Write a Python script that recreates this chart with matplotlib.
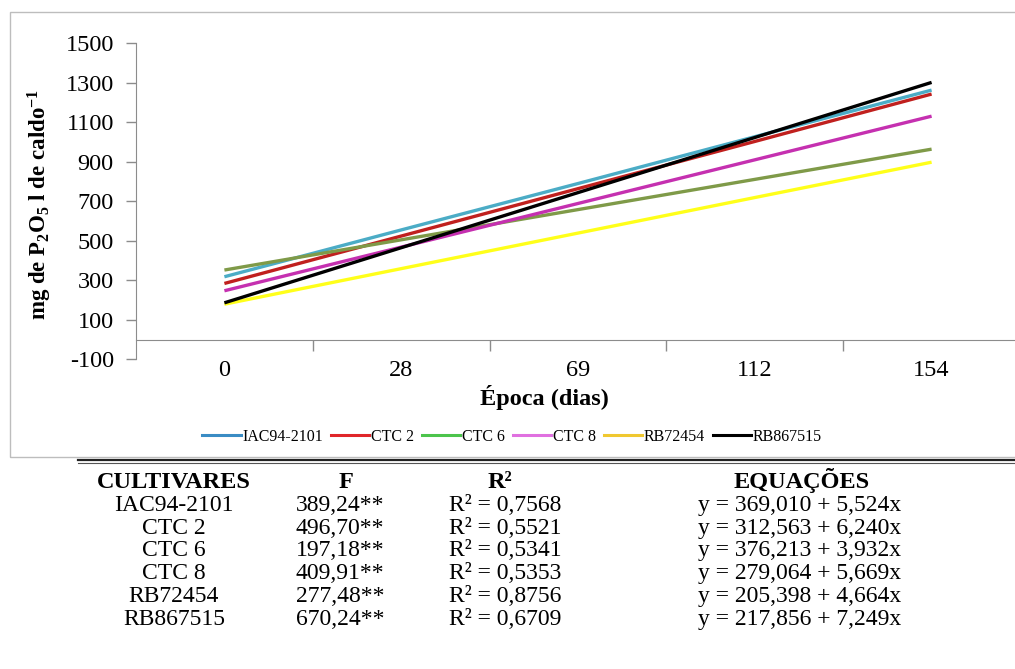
import matplotlib
matplotlib.use("Agg")
import matplotlib.pyplot as plt
from matplotlib.lines import Line2D
from matplotlib.patches import Rectangle

plt.rcParams['font.family'] = ['Liberation Serif', 'DejaVu Serif']
plt.rcParams['axes.unicode_minus'] = False
plt.rcParams['mathtext.fontset'] = 'custom'
plt.rcParams['mathtext.rm'] = 'Liberation Serif:bold'
plt.rcParams['mathtext.it'] = 'Liberation Serif:bold'
plt.rcParams['mathtext.bf'] = 'Liberation Serif:bold'

# Sampling times (days) shown as categories
epocas = ["0", "28", "69", "112", "154"]

# Fitted P2O5 content (mg/l of juice) per cultivar at each sampling time
iac94_2101 = [318, 555, 790, 1027, 1263]
ctc2 = [284, 524, 764, 1003, 1243]
ctc6 = [352, 505, 658, 811, 964]
ctc8 = [247, 468, 689, 910, 1131]
rb72454 = [179, 359, 539, 719, 898]
rb867515 = [186, 465, 744, 1023, 1302]

cultivares = ["IAC94-2101", "CTC 2", "CTC 6", "CTC 8", "RB72454", "RB867515"]
valores_f = ["389,24**", "496,70**", "197,18**", "409,91**", "277,48**", "670,24**"]
valores_r2 = ["0,7568", "0,5521", "0,5341", "0,5353", "0,8756", "0,6709"]
equacoes = ["y = 369,010 + 5,524x", "y = 312,563 + 6,240x", "y = 376,213 + 3,932x",
            "y = 279,064 + 5,669x", "y = 205,398 + 4,664x", "y = 217,856 + 7,249x"]

series = [iac94_2101, ctc2, ctc6, ctc8, rb72454, rb867515]
line_colors = ["#4BACC6", "#C0201E", "#7F9A48", "#C530B0", "#FFFF1A", "#000000"]
legend_colors = ["#3A8CC4", "#E0262A", "#4CC44C", "#E070E0", "#F0C830", "#000000"]

W, H = 1015, 669
fig = plt.figure(figsize=(W / 100, H / 100), dpi=100)

def fx(px):
    return px / W

def fy(py):
    return 1 - py / H

# Chart frame
fig.patches.append(Rectangle((fx(10), fy(457)), fx(1030) - fx(10), fy(12) - fy(457),
                             transform=fig.transFigure, fill=False,
                             edgecolor="#BDBDBD", linewidth=1.0))

ax = fig.add_axes([fx(136), fy(359.3), fx(1020) - fx(136), fy(43.3) - fy(359.3)])
x = list(range(len(epocas)))
for vals, c in zip(series, line_colors):
    ax.plot(x, vals, color=c, linewidth=2.4, solid_capstyle='butt')

ax.set_xlim(-0.5, 4.5)
ax.set_ylim(-100, 1500)
ax.set_yticks(range(-100, 1501, 200))
ax.tick_params(axis='y', direction='out', length=7, width=1, color="#8C8C8C",
               labelsize=17.5, pad=9)

for s in ['top', 'right']:
    ax.spines[s].set_visible(False)
ax.spines['left'].set_color("#8C8C8C")
ax.spines['bottom'].set_color("#8C8C8C")
ax.spines['bottom'].set_position(('data', 0))

ax.set_xticks(x)
ax.set_xticklabels(epocas)
ax.tick_params(axis='x', which='major', length=0, labelsize=17.5, pad=15)
ax.set_xticks([0.5, 1.5, 2.5, 3.5], minor=True)
ax.tick_params(axis='x', which='minor', direction='out', length=8, width=1,
               color="#8C8C8C")

fig.text(fx(40), fy(204), r"mg de P$_2$O$_5$ l de caldo$^{-1}$", rotation=90,
         ha='center', va='center', fontsize=16.5, fontweight='bold')

fig.text(fx(544), fy(397), "Época (dias)", ha='center', va='center',
         fontsize=17.5, fontweight='bold')

handles = [Line2D([0], [0], color=c, linewidth=2.2) for c in legend_colors]
fig.legend(handles, cultivares, loc='center', bbox_to_anchor=(fx(512), fy(437)),
           ncol=6, frameon=False, fontsize=11.5, handlelength=2.4,
           handletextpad=0.1, columnspacing=0.5)

# Regression summary table
fig.add_artist(Line2D([fx(78), fx(1015)], [fy(459.5), fy(459.5)],
                      transform=fig.transFigure, color="#222222", linewidth=1.6))
fig.add_artist(Line2D([fx(78), fx(1015)], [fy(463), fy(463)],
                      transform=fig.transFigure, color="#555555", linewidth=0.8))

col_x = [174, 340, 505, 800]
header_base = 488
fig.text(fx(col_x[0]), fy(header_base), "CULTIVARES", ha='center', va='baseline',
         fontsize=17.5, fontweight='bold')
fig.text(fx(col_x[1] + 6), fy(header_base), "F", ha='center', va='baseline',
         fontsize=17.5, fontweight='bold')
fig.text(fx(col_x[2] - 5), fy(header_base), "R²", ha='center', va='baseline',
         fontsize=17.5, fontweight='bold')
fig.text(fx(col_x[3] + 2), fy(header_base), "EQUAÇÕES", ha='center', va='baseline',
         fontsize=17.5, fontweight='bold')

row_step = 22.8
for i, (cv, fv, r2, eq) in enumerate(zip(cultivares, valores_f, valores_r2, equacoes)):
    yy = fy(header_base + row_step * (i + 1))
    fig.text(fx(col_x[0]), yy, cv, ha='center', va='baseline', fontsize=17)
    fig.text(fx(col_x[1]), yy, fv, ha='center', va='baseline', fontsize=17)
    fig.text(fx(col_x[2]), yy, "R² = " + r2, ha='center', va='baseline', fontsize=17)
    fig.text(fx(col_x[3]), yy, eq, ha='center', va='baseline', fontsize=17)

fig.savefig("out.png", dpi=100)
